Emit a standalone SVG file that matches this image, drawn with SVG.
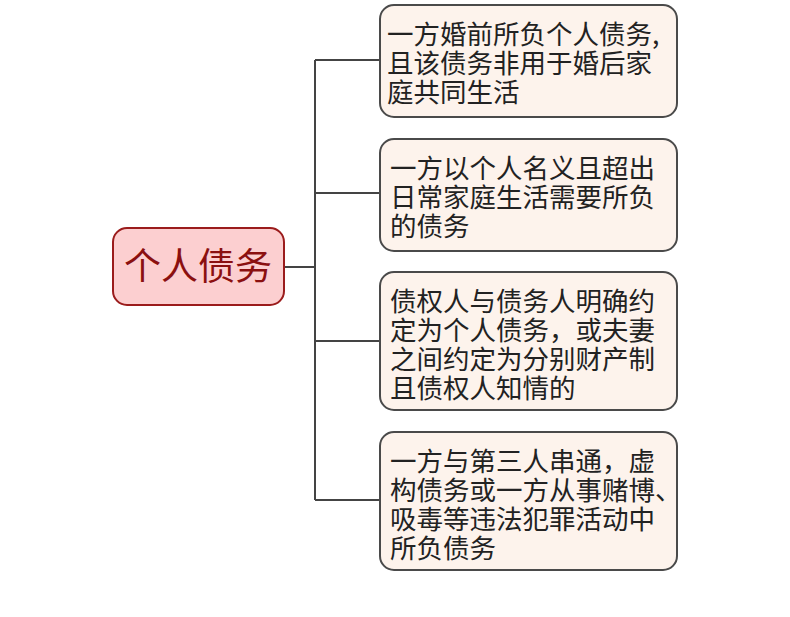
<svg xmlns="http://www.w3.org/2000/svg" width="790" height="617" viewBox="0 0 790 617">
<style>
.b{fill:#fdf3ec;stroke:#4a4a4a;stroke-width:2}
.t{font-family:"Noto Sans CJK SC",sans-serif;font-size:26.5px;fill:#222}
.c{stroke:#444;stroke-width:2;fill:none}
</style>
<rect width="790" height="617" fill="#fff"/>
<g id="connectors">
<path class="c" d="M284 267H315M315 60V500M315 60H380M315 193H380M315 341H380M315 500H380"/>
</g>
<g id="root">
<rect x="113" y="228" width="171" height="77" rx="14" fill="#fccfd0" stroke="#9b1c1c" stroke-width="2"/>
<text x="198" y="280" text-anchor="middle" font-family="Noto Sans CJK SC,sans-serif" font-size="37" fill="#8b1010">个人债务</text>
</g>
<g id="n1">
<rect class="b" x="380" y="5" width="297" height="112" rx="14"/>
<text class="t" x="387" y="44">一方婚前所负个人债务,</text>
<text class="t" x="387" y="73">且该债务非用于婚后家</text>
<text class="t" x="387" y="102">庭共同生活</text>
</g>
<g id="n2">
<rect class="b" x="380" y="139" width="297" height="112" rx="14"/>
<text class="t" x="390" y="178">一方以个人名义且超出</text>
<text class="t" x="390" y="207">日常家庭生活需要所负</text>
<text class="t" x="390" y="236">的债务</text>
</g>
<g id="n3">
<rect class="b" x="380" y="272" width="297" height="138" rx="14"/>
<text class="t" x="390" y="311">债权人与债务人明确约</text>
<text class="t" x="390" y="340">定为个人债务，或夫妻</text>
<text class="t" x="390" y="369">之间约定为分别财产制</text>
<text class="t" x="390" y="398">且债权人知情的</text>
</g>
<g id="n4">
<rect class="b" x="380" y="432" width="297" height="138" rx="14"/>
<text class="t" x="390" y="471">一方与第三人串通，虚</text>
<text class="t" x="390" y="500">构债务或一方从事赌博、</text>
<text class="t" x="390" y="529">吸毒等违法犯罪活动中</text>
<text class="t" x="390" y="558">所负债务</text>
</g>
</svg>
